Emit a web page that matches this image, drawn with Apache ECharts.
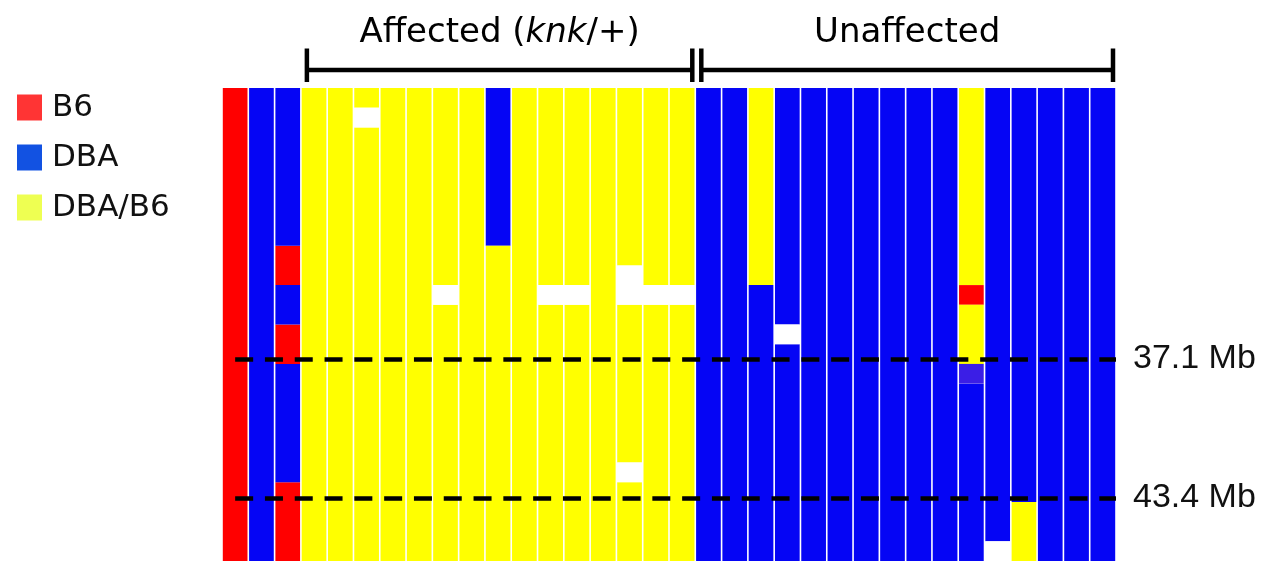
<!DOCTYPE html>
<html>
<head>
<meta charset="utf-8">
<script src="https://cdn.jsdelivr.net/npm/echarts@6/dist/echarts.min.js"></script>
<style>
  html, body { margin: 0; background: #fff; }
  #chart { width: 1271px; height: 561px; }
</style>
</head>
<body>
<div id="chart"></div>
<script>
// genotype runs per mouse, top marker first: [code, number of markers]
// B = B6, D = DBA, H = DBA/B6, W = no call, P = ambiguous call
const controlRuns = [
  [['B', 24]],
  [['D', 24]],
  [['D', 8], ['B', 2], ['D', 2], ['B', 2], ['D', 6], ['B', 4]],
]

const affectedRuns = [
  [['H', 24]],
  [['H', 24]],
  [['H', 1], ['W', 1], ['H', 22]],
  [['H', 24]],
  [['H', 24]],
  [['H', 10], ['W', 1], ['H', 13]],
  [['H', 24]],
  [['D', 8], ['H', 16]],
  [['H', 24]],
  [['H', 10], ['W', 1], ['H', 13]],
  [['H', 10], ['W', 1], ['H', 13]],
  [['H', 24]],
  [['H', 9], ['W', 2], ['H', 8], ['W', 1], ['H', 4]],
  [['H', 10], ['W', 1], ['H', 13]],
  [['H', 10], ['W', 1], ['H', 13]],
]

const unaffectedRuns = [
  [['D', 24]],
  [['D', 24]],
  [['H', 10], ['D', 14]],
  [['D', 12], ['W', 1], ['D', 11]],
  [['D', 24]],
  [['D', 24]],
  [['D', 24]],
  [['D', 24]],
  [['D', 24]],
  [['D', 24]],
  [['H', 10], ['B', 1], ['H', 3], ['P', 1], ['D', 9]],
  [['D', 23], ['W', 1]],
  [['D', 21], ['H', 3]],
  [['D', 24]],
  [['D', 24]],
  [['D', 24]],
]

const markerCount = 24
const genotypeCodes = ['B', 'D', 'H', 'W', 'P']
const genotypeNames = ['B6', 'DBA', 'DBA/B6', 'No call', 'Ambiguous']
const genotypeColors = ['#ff0000', '#0505f5', '#ffff00', '#ffffff', '#3b1ee6']
const legendNames = ['B6', 'DBA', 'DBA/B6']
const legendColors = ['#ff3434', '#1252e2', '#eeff52']

const groupLabels = ['{n|Affected (}{i|knk}{n|/+)}', '{n|Unaffected}']

const mbLabels = ['37.1 Mb', '43.4 Mb']
const mbRows = [13.75, 20.8]

const allRuns = [...controlRuns, ...affectedRuns, ...unaffectedRuns]

const cellsByCode = {}
genotypeCodes.forEach((c) => (cellsByCode[c] = []))
allRuns.forEach((runs, col) => {
  let row = 0
  runs.forEach(([code, n]) => {
    cellsByCode[code].push([col, row, row + n])
    row += n
  })
})

const groupData = [
  [controlRuns.length, controlRuns.length + affectedRuns.length, 0],
  [controlRuns.length + affectedRuns.length, allRuns.length, 1],
]

const COL_GAP = 1.6
const FONT = 'DejaVu Sans'

const renderCell = (params, api) => {
  const p0 = api.coord([api.value(0), api.value(1)])
  const p1 = api.coord([api.value(0) + 1, api.value(2)])
  return {
    type: 'rect',
    shape: {
      x: p0[0] + COL_GAP / 2,
      y: p0[1],
      width: p1[0] - p0[0] - COL_GAP,
      height: p1[1] - p0[1],
    },
    style: { fill: api.visual('color') },
  }
}

const renderBracket = (params, api) => {
  const x0 = api.coord([api.value(0), 0])[0] + 6
  const x1 = api.coord([api.value(1), 0])[0] - 3
  const top = api.coord([0, 0])[1]
  const y = top - 18
  const stroke = { stroke: '#000', lineWidth: 4.5 }
  const textStyle = { fontSize: 34, fontFamily: FONT, color: '#111' }
  return {
    type: 'group',
    children: [
      { type: 'line', shape: { x1: x0, y1: y, x2: x1, y2: y }, style: stroke },
      { type: 'line', shape: { x1: x0, y1: y - 21.5, x2: x0, y2: y + 12 }, style: stroke },
      { type: 'line', shape: { x1: x1, y1: y - 21.5, x2: x1, y2: y + 12 }, style: stroke },
      {
        type: 'text',
        style: {
          text: groupLabels[api.value(2)],
          x: (x0 + x1) / 2,
          y: top - 55,
          align: 'center',
          verticalAlign: 'middle',
          rich: { n: textStyle, i: { ...textStyle, fontStyle: 'italic' } },
        },
      },
    ],
  }
}

const chart = echarts.init(document.getElementById('chart'))

const cellSeries = genotypeCodes.map((code, i) => ({
  name: genotypeNames[i],
  type: 'custom',
  renderItem: renderCell,
  itemStyle: { color: genotypeColors[i] },
  data: cellsByCode[code],
  silent: true,
}))

cellSeries[0].markLine = {
  silent: true,
  symbol: ['none', 'none'],
  animation: false,
  lineStyle: { color: '#000', width: 4.5, type: [18, 11.8] },
  label: {
    position: 'end',
    distance: 17,
    fontSize: 34,
    fontFamily: 'Liberation Sans',
    color: '#111',
    formatter: (p) => p.name,
  },
  data: mbLabels.map((label, i) => [
    { name: label, coord: [0.5, mbRows[i]] },
    { coord: [allRuns.length, mbRows[i]] },
  ]),
}

const option = {
  animation: false,
  backgroundColor: '#fff',
  grid: { left: 222, right: 155, top: 88, bottom: 0 },
  xAxis: { type: 'value', min: 0, max: allRuns.length, show: false },
  yAxis: { type: 'value', min: 0, max: markerCount, inverse: true, show: false },
  legend: {
    orient: 'vertical',
    left: 12,
    top: 87,
    icon: 'rect',
    itemWidth: 25,
    itemHeight: 26,
    itemGap: 19,
    selectedMode: false,
    textStyle: {
      fontSize: 31,
      fontFamily: FONT,
      color: '#111',
      lineHeight: 26,
      padding: [0, 0, 0, 5],
    },
    data: legendNames.map((name, i) => ({ name, itemStyle: { color: legendColors[i] } })),
  },
  series: [
    ...cellSeries,
    {
      name: 'groups',
      type: 'custom',
      renderItem: renderBracket,
      data: groupData,
      silent: true,
      clip: false,
    },
  ],
}

chart.setOption(option)
window.addEventListener('resize', () => chart.resize())
</script>
</body>
</html>
